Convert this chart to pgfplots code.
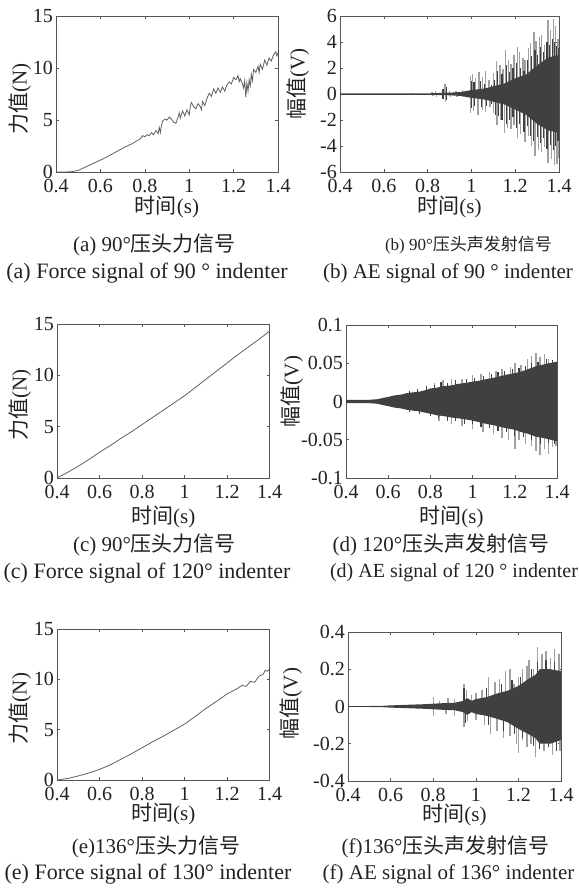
\documentclass[border=0pt]{standalone}
\usepackage{pgfplots}
\pgfplotsset{compat=1.18}
\usepackage{fontspec}
\setmainfont{Liberation Serif}
\newfontfamily\cjk{Noto Sans CJK SC}
\definecolor{frame}{HTML}{555555}
\definecolor{txt}{HTML}{222222}
\definecolor{fline}{HTML}{606060}
\definecolor{dk}{HTML}{404040}
\definecolor{lt}{HTML}{A0A0A0}
\pgfplotsset{
  myax/.style={
    scale only axis,
    axis line style={frame, line width=0.8pt},
    tick style={frame, line width=0.6pt},
    major tick length=3pt, tick align=inside,
    xmin=0.4, xmax=1.4,
    xtick={0.4,0.6,0.8,1,1.2,1.4},
    xticklabels={0.4,0.6,0.8,1,1.2,1.4},
    scaled ticks=false,
    ticklabel style={font=\fontsize{20}{20}\selectfont, text=txt},
    xticklabel style={inner sep=0pt, yshift=-7pt},
    yticklabel style={inner sep=0pt, xshift=-3pt},
    label style={font=\fontsize{21}{21}\selectfont, text=txt},
    xlabel={{\cjk 时间}(s)},
    xlabel style={at={(axis description cs:0.5,0)}, anchor=center, inner sep=0pt},
    ylabel style={at={(axis description cs:0,0.5)}, anchor=center, inner sep=0pt},
  },
  forceax/.style={myax, ymin=0, ymax=15, ytick={0,5,10,15}, yticklabels={0,5,10,15}, ylabel={{\cjk 力值}(N)}},
}
\begin{document}
\begin{tikzpicture}
\path[use as bounding box] (0,0) rectangle (578pt,890pt);

% (a)
\begin{axis}[forceax, at={(56pt,718pt)}, anchor=south west, width=222pt, height=155.5pt,
  xlabel style={yshift=-35pt}, ylabel style={yshift=36pt, xshift=-5pt}]
\addplot[fline, line width=0.8pt] coordinates {
(0.40,0) (0.44,0) (0.47,0.02) (0.50,0.15) (0.53,0.45) (0.56,0.75) (0.59,1.05) (0.62,1.35)
(0.65,1.7) (0.68,2.05) (0.71,2.4) (0.74,2.7) (0.76,2.95) (0.78,3.2) (0.79,3.5) (0.80,3.4)
(0.81,3.6) (0.82,3.5) (0.83,3.8) (0.84,3.6) (0.85,4.0) (0.86,3.7) (0.865,4.3) (0.87,3.8)
(0.875,4.5) (0.88,4.9) (0.89,5.1) (0.90,5.0) (0.91,5.3) (0.92,5.1) (0.93,4.8) (0.94,4.7)
(0.95,5.3) (0.955,5.7) (0.96,5.2) (0.97,5.9) (0.98,5.4) (0.99,6.0) (1.00,5.5) (1.005,6.3)
(1.01,6.7) (1.02,6.3) (1.03,6.1) (1.04,6.6) (1.05,6.3) (1.055,6.0) (1.06,6.8) (1.07,6.4)
(1.08,7.1) (1.09,7.6) (1.10,7.3) (1.11,8.0) (1.12,7.6) (1.13,8.1) (1.14,7.7) (1.15,8.2)
(1.16,7.8) (1.17,8.4) (1.18,8.7) (1.19,8.5) (1.20,9.1) (1.21,8.9) (1.22,9.3) (1.225,8.7)
(1.23,9.0) (1.24,8.5) (1.245,8.1) (1.25,8.8) (1.255,7.2) (1.26,8.6) (1.265,7.8) (1.27,8.9)
(1.275,8.3) (1.28,9.4) (1.285,8.8) (1.29,9.9) (1.30,9.6) (1.31,10.2) (1.315,9.6) (1.32,10.4)
(1.33,9.9) (1.34,10.8) (1.35,10.3) (1.36,11.0) (1.37,10.7) (1.38,11.3) (1.39,11.6) (1.395,11.2) (1.40,11.5)
};
\end{axis}

% (b)
\begin{axis}[myax, at={(340pt,718pt)}, anchor=south west, width=219pt, height=156pt,
  ymin=-6, ymax=6, ytick={-6,-4,-2,0,2,4,6}, yticklabels={-6,-4,-2,0,2,4,6},
  ylabel={{\cjk 幅值}(V)},
  xlabel style={yshift=-35pt}, ylabel style={yshift=42pt, xshift=10pt}]
\addplot[ycomb, lt, line width=1.4pt, mark=none] coordinates {
(0.73,0.08) (0.73,-0.08) (0.82,0.15) (0.825,-0.15) (0.835,0.2) (0.84,-0.2)
(0.88,0.8) (0.882,-0.6) (0.9,0.2) (0.905,-0.2) (0.93,0.25) (0.935,-0.2) (0.96,0.3) (0.965,-0.25)
(0.995,1.4) (0.997,-1.5) (1.005,1.5) (1.01,-1.3) (1.02,1.2) (1.03,-1.6) (1.035,1.7) (1.05,-1.2)
(1.05,1.3) (1.065,1.8) (1.065,-1.4) (1.08,1.1) (1.085,-1.0) (1.10,1.6) (1.10,-1.5)
(1.115,2.5) (1.117,-2.4) (1.13,2.2) (1.132,-2.0) (1.145,1.9) (1.15,-3.0) (1.155,3.4) (1.165,-2.6)
(1.17,2.6) (1.18,-2.7) (1.18,2.3) (1.195,-2.4) (1.195,3.0) (1.21,-3.4) (1.21,3.6) (1.225,-3.1)
(1.22,3.2) (1.245,-3.7) (1.235,2.8) (1.26,-3.2) (1.245,2.6) (1.275,-4.0) (1.26,3.5) (1.29,-4.8)
(1.27,3.9) (1.305,-4.3) (1.285,4.8) (1.32,-4.5) (1.295,4.1) (1.335,-4.1) (1.31,4.4) (1.35,-5.3)
(1.32,4.5) (1.365,-5.0) (1.335,3.8) (1.38,-5.5) (1.35,5.7) (1.39,-5.4) (1.36,4.9) (1.398,-4.9)
(1.375,5.8) (1.385,5.2) (1.395,4.2)
};
\addplot[ycomb, dk, line width=1.2pt, mark=none] coordinates {
(0.87,0.4) (0.885,0.5) (1.0,1.0) (1.012,0.9) (1.04,1.0) (1.06,0.8) (1.09,0.7) (1.105,1.1)
(1.12,1.8) (1.14,1.5) (1.16,2.2) (1.175,1.7) (1.19,2.0) (1.205,2.4) (1.225,2.0) (1.24,1.8)
(1.255,2.6) (1.275,2.9) (1.29,3.4) (1.30,3.0) (1.315,3.6) (1.33,3.2) (1.345,4.0) (1.355,3.8)
(1.37,4.2) (1.38,4.0) (1.39,3.7) (1.398,3.5)
(0.87,-0.4) (0.885,-0.5) (1.0,-1.1) (1.015,-0.9) (1.045,-1.0) (1.07,-0.9) (1.09,-0.8) (1.11,-1.6)
(1.125,-1.7) (1.14,-2.0) (1.16,-2.3) (1.175,-2.0) (1.19,-1.8) (1.205,-2.6) (1.22,-2.3) (1.24,-2.9)
(1.255,-2.5) (1.27,-3.2) (1.285,-3.6) (1.30,-3.3) (1.315,-3.8) (1.33,-3.4) (1.345,-4.2) (1.36,-3.9)
(1.375,-4.3) (1.385,-4.0) (1.395,-3.6)
};
\addplot[fill=dk, draw=none] coordinates {
(0.4,0.04) (0.8,0.04) (0.85,0.08) (0.9,0.1) (0.95,0.15) (1.0,0.3) (1.05,0.4) (1.08,0.5) (1.1,0.6)
(1.15,0.8) (1.2,1.2) (1.25,1.5) (1.3,2.2) (1.35,2.8) (1.4,3.0)
(1.4,-3.0) (1.35,-2.8) (1.3,-2.3) (1.25,-1.6) (1.2,-1.2) (1.15,-0.8) (1.1,-0.6) (1.08,-0.5)
(1.05,-0.4) (1.0,-0.3) (0.95,-0.15) (0.9,-0.1) (0.85,-0.08) (0.8,-0.04) (0.4,-0.04)
};
\addplot[dk, line width=0.8pt] coordinates {(0.4,0) (1.4,0)};
\end{axis}

% (c)
\begin{axis}[forceax, at={(57pt,412pt)}, anchor=south west, width=212.5pt, height=154pt,
  xlabel style={yshift=-39pt}, ylabel style={yshift=37pt, xshift=-4pt}]
\addplot[fline, line width=0.8pt] coordinates {
(0.40,0) (0.45,0.55) (0.50,1.15) (0.55,1.8) (0.60,2.5) (0.65,3.15) (0.70,3.85) (0.75,4.5)
(0.80,5.2) (0.85,5.9) (0.90,6.6) (0.95,7.3) (1.00,8.0) (1.05,8.8) (1.10,9.6) (1.15,10.4)
(1.20,11.2) (1.25,12.0) (1.30,12.75) (1.35,13.5) (1.40,14.3)
};
\end{axis}

% (d)
\begin{axis}[myax, at={(346pt,412pt)}, anchor=south west, width=211pt, height=153pt,
  ymin=-0.1, ymax=0.1, ytick={-0.1,-0.05,0,0.05,0.1}, yticklabels={-0.1,-0.05,0,0.05,0.1},
  ylabel={{\cjk 幅值}(V)},
  xlabel style={yshift=-39pt}, ylabel style={yshift=54pt, xshift=10pt}]
\addplot[ycomb, lt, line width=1.4pt, mark=none] coordinates {
(0.82,0.024) (0.86,0.028) (0.9,0.03) (0.95,0.03) (1.0,0.034) (1.04,0.036) (1.08,0.038) (1.11,0.04)
(1.14,0.042) (1.18,0.045) (1.2,0.05) (1.23,0.048) (1.26,0.055) (1.28,0.06) (1.3,0.063) (1.32,0.058)
(1.34,0.062) (1.36,0.055) (1.38,0.052) (1.395,0.05)
(0.84,-0.025) (0.9,-0.03) (0.95,-0.032) (1.0,-0.036) (1.05,-0.04) (1.1,-0.042) (1.14,-0.048)
(1.17,-0.05) (1.2,-0.062) (1.22,-0.05) (1.25,-0.055) (1.28,-0.058) (1.3,-0.065) (1.32,-0.07)
(1.34,-0.062) (1.36,-0.068) (1.38,-0.06) (1.395,-0.058)
};
\addplot[ycomb, dk, line width=1.2pt, mark=none] coordinates {
(0.7,0.014) (0.74,0.016) (0.78,0.02) (0.82,0.022) (0.85,0.026) (0.88,0.024) (0.92,0.028) (0.97,0.03)
(1.01,0.031) (1.05,0.033) (1.09,0.036) (1.12,0.038) (1.15,0.04) (1.19,0.042) (1.22,0.044) (1.25,0.047)
(1.28,0.05) (1.31,0.052) (1.35,0.055) (1.38,0.054)
(0.7,-0.014) (0.75,-0.016) (0.8,-0.019) (0.84,-0.022) (0.88,-0.025) (0.92,-0.026) (0.96,-0.029)
(1.0,-0.03) (1.04,-0.033) (1.08,-0.035) (1.12,-0.038) (1.16,-0.04) (1.2,-0.045) (1.24,-0.047)
(1.28,-0.05) (1.32,-0.055) (1.36,-0.054) (1.39,-0.056)
};
\addplot[fill=dk, draw=none] coordinates {
(0.4,0.002) (0.45,0.002) (0.5,0.002) (0.55,0.003) (0.58,0.005) (0.6,0.006) (0.63,0.008) (0.66,0.009)
(0.69,0.011) (0.72,0.012) (0.75,0.013) (0.78,0.015) (0.8,0.017) (0.83,0.018) (0.86,0.02) (0.9,0.021)
(0.93,0.023) (0.96,0.024) (1.0,0.026) (1.03,0.027) (1.06,0.029) (1.1,0.031) (1.13,0.033) (1.16,0.035)
(1.2,0.037) (1.23,0.039) (1.26,0.042) (1.3,0.046) (1.33,0.048) (1.36,0.05) (1.4,0.052)
(1.4,-0.052) (1.37,-0.05) (1.34,-0.048) (1.3,-0.046) (1.26,-0.042) (1.23,-0.04) (1.2,-0.037)
(1.16,-0.035) (1.13,-0.033) (1.1,-0.031) (1.06,-0.029) (1.03,-0.027) (1.0,-0.025) (0.96,-0.023)
(0.93,-0.022) (0.9,-0.021) (0.86,-0.019) (0.83,-0.018) (0.8,-0.016) (0.78,-0.015) (0.75,-0.013)
(0.72,-0.012) (0.69,-0.011) (0.66,-0.009) (0.63,-0.008) (0.6,-0.006) (0.58,-0.005) (0.55,-0.003)
(0.5,-0.002) (0.45,-0.002) (0.4,-0.002)
};
\addplot[dk, line width=0.8pt] coordinates {(0.4,0) (1.4,0)};
\end{axis}

% (e)
\begin{axis}[forceax, at={(57pt,110pt)}, anchor=south west, width=212.5pt, height=151pt,
  xlabel style={yshift=-34pt}, ylabel style={yshift=37pt, xshift=-4pt}]
\addplot[fline, line width=0.8pt] coordinates {
(0.40,0) (0.45,0.15) (0.50,0.4) (0.55,0.7) (0.60,1.05) (0.65,1.5) (0.70,2.05) (0.75,2.6)
(0.80,3.2) (0.85,3.8) (0.90,4.35) (0.95,4.95) (1.00,5.55) (1.05,6.3) (1.10,7.1) (1.15,7.8)
(1.20,8.55) (1.25,9.1) (1.27,9.4) (1.29,9.3) (1.31,9.8) (1.33,9.7) (1.35,10.3) (1.37,10.5)
(1.38,10.9) (1.39,10.8) (1.40,11.0)
};
\end{axis}

% (f)
\begin{axis}[myax, at={(348pt,109pt)}, anchor=south west, width=213pt, height=149pt,
  ymin=-0.4, ymax=0.4, ytick={-0.4,-0.2,0,0.2,0.4}, yticklabels={-0.4,-0.2,0,0.2,0.4},
  ylabel={{\cjk 幅值}(V)},
  xlabel style={yshift=-34pt}, ylabel style={yshift=57pt, xshift=3pt}]
\addplot[ycomb, lt, line width=1.4pt, mark=none] coordinates {
(0.8,0.05) (0.83,0.03) (0.87,0.045) (0.9,0.04) (0.945,0.12) (0.955,0.09) (0.98,0.06) (1.0,0.07)
(1.03,0.09) (1.06,0.16) (1.09,0.13) (1.11,0.15) (1.14,0.19) (1.16,0.2) (1.18,0.12) (1.2,0.16)
(1.22,0.2) (1.24,0.22) (1.25,0.25) (1.27,0.2) (1.29,0.32) (1.31,0.28) (1.33,0.3) (1.35,0.26)
(1.37,0.31) (1.39,0.28)
(0.8,-0.05) (0.86,-0.04) (0.9,-0.05) (0.945,-0.11) (0.96,-0.08) (1.0,-0.07) (1.04,-0.1)
(1.07,-0.15) (1.1,-0.13) (1.13,-0.17) (1.16,-0.16) (1.19,-0.2) (1.2,-0.25) (1.22,-0.18)
(1.24,-0.22) (1.26,-0.2) (1.28,-0.27) (1.3,-0.23) (1.32,-0.24) (1.34,-0.2) (1.36,-0.26)
(1.38,-0.22) (1.395,-0.24)
};
\addplot[ycomb, dk, line width=1.2pt, mark=none] coordinates {
(0.945,0.1) (0.95,-0.09) (1.05,0.1) (1.06,-0.1) (1.12,0.12) (1.13,-0.13) (1.17,0.14) (1.18,-0.15)
(1.21,0.16) (1.22,-0.17) (1.26,0.2) (1.27,-0.21) (1.29,0.24) (1.3,-0.23) (1.33,0.25) (1.34,-0.22)
(1.37,0.24) (1.38,-0.24)
};
\addplot[fill=dk, draw=none] coordinates {
(0.4,0.002) (0.55,0.003) (0.6,0.006) (0.65,0.008) (0.7,0.01) (0.75,0.012) (0.8,0.015) (0.85,0.018)
(0.9,0.02) (0.94,0.03) (0.96,0.045) (0.98,0.03) (1.0,0.04) (1.05,0.05) (1.1,0.07) (1.15,0.085)
(1.2,0.11) (1.25,0.15) (1.28,0.17) (1.3,0.2) (1.35,0.2) (1.4,0.19)
(1.4,-0.18) (1.35,-0.2) (1.3,-0.2) (1.28,-0.17) (1.25,-0.15) (1.2,-0.12) (1.15,-0.085) (1.1,-0.066)
(1.05,-0.05) (1.0,-0.04) (0.98,-0.03) (0.96,-0.045) (0.94,-0.03) (0.9,-0.02) (0.85,-0.018)
(0.8,-0.015) (0.75,-0.012) (0.7,-0.01) (0.65,-0.008) (0.6,-0.006) (0.55,-0.003) (0.4,-0.002)
};
\addplot[dk, line width=0.8pt] coordinates {(0.4,0) (1.4,0)};
\end{axis}

% captions
\begin{scope}[every node/.style={anchor=center, inner sep=0pt, text=txt}]
\node[font=\fontsize{21}{21}\selectfont] at (154.5pt,645pt) {(a) 90°{\cjk 压头力信号}};
\node[font=\fontsize{22}{22}\selectfont] at (147pt,617pt) {(a) Force signal of 90 ° indenter};
\node[font=\fontsize{17}{17}\selectfont] at (468.5pt,645pt) {(b) 90°{\cjk 压头声发射信号}};
\node[font=\fontsize{21}{21}\selectfont] at (448pt,617pt) {(b) AE signal of 90 ° indenter};
\node[font=\fontsize{21}{21}\selectfont] at (154.5pt,345pt) {(c) 90°{\cjk 压头力信号}};
\node[font=\fontsize{22}{22}\selectfont] at (147pt,317pt) {(c) Force signal of 120° indenter};
\node[font=\fontsize{21}{21}\selectfont] at (441pt,345pt) {(d) 120°{\cjk 压头声发射信号}};
\node[font=\fontsize{20}{20}\selectfont] at (454pt,317pt) {(d) AE signal of 120 ° indenter};
\node[font=\fontsize{21}{21}\selectfont] at (156pt,43pt) {(e)136°{\cjk 压头力信号}};
\node[font=\fontsize{22}{22}\selectfont] at (148pt,16pt) {(e) Force signal of 130° indenter};
\node[font=\fontsize{21}{21}\selectfont] at (445.5pt,43pt) {(f)136°{\cjk 压头声发射信号}};
\node[font=\fontsize{21}{21}\selectfont] at (448.5pt,16pt) {(f) AE signal of 136° indenter};
\end{scope}
\end{tikzpicture}
\end{document}
